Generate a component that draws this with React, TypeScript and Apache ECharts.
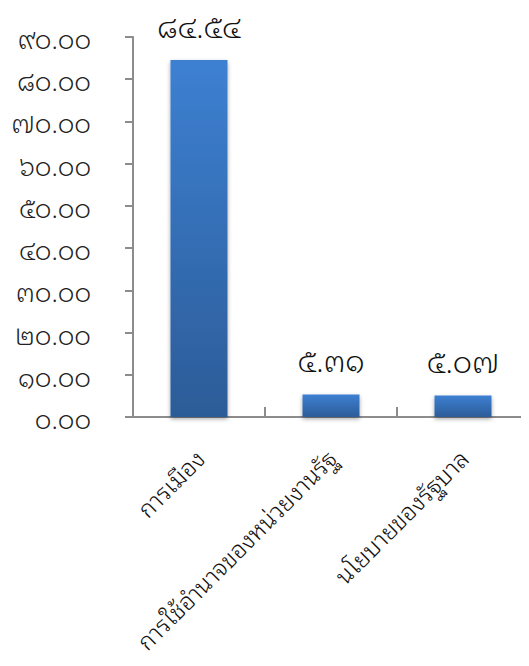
import React, { useEffect, useRef } from "react";
import * as echarts from "echarts";

const categories = ["การเมือง", "การใช้อำนาจของหน่วยงานรัฐ", "นโยบายของรัฐบาล"];
const values = [84.54, 5.31, 5.07];
const yMin = 0;
const yMax = 90;
const yInterval = 10;

const thaiDigits = "๐๑๒๓๔๕๖๗๘๙";
const toThai = (s: string) => s.replace(/[0-9]/g, (d) => thaiDigits[Number(d)]);

export default function App() {
  const ref = useRef<HTMLDivElement>(null);
  useEffect(() => {
    if (!ref.current) return;
    const chart = echarts.init(ref.current, null, { renderer: "svg" });
    const font = "Noto Sans Thai Looped";
    chart.setOption({
      animation: false,
      textStyle: { fontFamily: font },
      grid: { left: 125, right: 0, top: 29, bottom: 249, containLabel: false, outerBoundsMode: "none" },
      xAxis: {
        type: "category",
        data: categories,
        axisLine: { show: true, lineStyle: { color: "#8c8c8c", width: 2 } },
        axisTick: { show: true, inside: true, length: 10, alignWithLabel: false, lineStyle: { color: "#8c8c8c", width: 2 } },
        axisLabel: {
          rotate: 45,
          margin: 36,
          fontSize: 24,
          fontWeight: 300,
          color: "#111",
          fontFamily: font,
          interval: 0,
        },
      },
      yAxis: {
        type: "value",
        min: yMin,
        max: yMax,
        interval: yInterval,
        splitLine: { show: false },
        axisLine: { show: true, lineStyle: { color: "#8c8c8c", width: 2 } },
        axisTick: { show: true, length: 8, lineStyle: { color: "#8c8c8c", width: 2 } },
        axisLabel: {
          formatter: (v: number) => toThai(v.toFixed(2)),
          fontSize: 26,
          fontWeight: 300,
          color: "#222",
          fontFamily: font,
          margin: 42,
        },
      },
      series: [
        {
          type: "bar",
          data: values,
          barWidth: 57,
          itemStyle: {
            color: new echarts.graphic.LinearGradient(0, 0, 0, 1, [
              { offset: 0, color: "#3d80d2" },
              { offset: 1, color: "#2c5c98" },
            ]),
            shadowColor: "rgba(0,0,0,0.35)",
            shadowBlur: 4,
            shadowOffsetY: 2,
          },
          label: {
            show: true,
            position: "top",
            distance: 25,
            fontSize: 30,
            fontWeight: 300,
            lineHeight: 22,
            color: "#111",
            fontFamily: font,
            formatter: (p: any) => toThai(Number(p.value).toFixed(2)),
          },
        },
      ],
    });
    return () => chart.dispose();
  }, []);
  return <div ref={ref} style={{ width: 521, height: 658 }} />;
}
